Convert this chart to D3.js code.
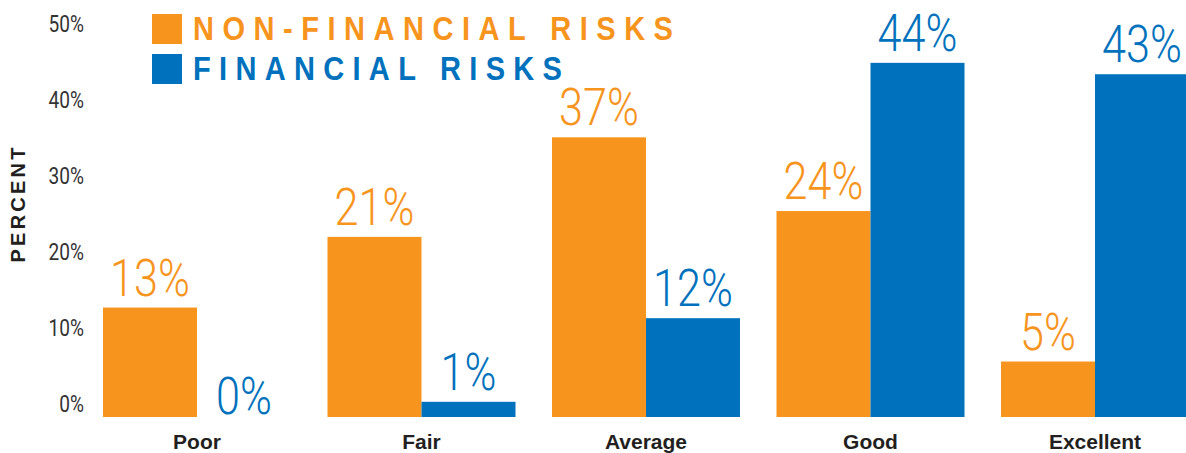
<!DOCTYPE html>
<html>
<head>
<meta charset="utf-8">
<script src="https://cdn.jsdelivr.net/npm/d3@7"></script>
<style>
  html, body { margin: 0; padding: 0; background: #fff; }
  svg { display: block; }
</style>
</head>
<body>
<svg id="chart" width="1186" height="453"></svg>
<script>
const categories = ["Poor", "Fair", "Average", "Good", "Excellent"];
const seriesNames = ["NON-FINANCIAL RISKS", "FINANCIAL RISKS"];
// bar heights as drawn in the picture (percent)
const nonFinancial = [14.4, 23.7, 36.8, 27.1, 7.3];
const financial = [0, 2.0, 13.0, 46.6, 45.1];
// printed value labels
const nonFinancialLabels = ["13%", "21%", "37%", "24%", "5%"];
const financialLabels = ["0%", "1%", "12%", "44%", "43%"];
const yTicks = [0, 10, 20, 30, 40, 50];

const colors = ["#f7941d", "#0071bc"];
const condensed = 0.83;

const svg = d3.select("#chart");

const baseline = 417;
const yScale = d3.scaleLinear().domain([0, 50]).range([baseline, 37]);

const xScale = d3
  .scaleBand()
  .domain(categories)
  .range([84.75, 1207.25])
  .paddingInner(0.1626)
  .paddingOuter(0.0813);

const xSub = d3
  .scaleBand()
  .domain([0, 1])
  .range([0, xScale.bandwidth()]);

// y tick labels (no axis line)
const tickG = svg.append("g");
tickG
  .selectAll("g")
  .data(yTicks)
  .join("g")
  .attr("transform", (d) => `translate(84,${yScale(d) - 13}) scale(${condensed},1)`)
  .append("text")
  .attr("text-anchor", "end")
  .attr("dy", "0.35em")
  .attr("font-family", "Roboto, sans-serif")
  .attr("font-weight", 400)
  .attr("font-size", 23)
  .attr("fill", "#333")
  .text((d) => `${d}%`);

// axis title
svg
  .append("text")
  .attr("transform", "translate(25,205) rotate(-90)")
  .attr("text-anchor", "middle")
  .attr("font-family", "'Liberation Sans', Arial, sans-serif")
  .attr("font-weight", 700)
  .attr("font-size", 20)
  .attr("fill", "#231f20")
  .attr("textLength", 115)
  .attr("lengthAdjust", "spacing")
  .text("PERCENT");

const rows = categories.map((c, i) => ({
  category: c,
  values: [
    { series: 0, value: nonFinancial[i], label: nonFinancialLabels[i] },
    { series: 1, value: financial[i], label: financialLabels[i] },
  ],
}));

const groups = svg
  .selectAll("g.group")
  .data(rows)
  .join("g")
  .attr("class", "group")
  .attr("transform", (d) => `translate(${xScale(d.category)},0)`);

groups
  .selectAll("rect")
  .data((d) => d.values)
  .join("rect")
  .attr("x", (d) => xSub(d.series))
  .attr("width", xSub.bandwidth())
  .attr("y", (d) => yScale(d.value))
  .attr("height", (d) => baseline - yScale(d.value))
  .attr("fill", (d) => colors[d.series]);

groups
  .selectAll("g.val")
  .data((d) => d.values)
  .join("g")
  .attr("class", "val")
  .attr(
    "transform",
    (d) =>
      `translate(${xSub(d.series) + xSub.bandwidth() / 2},${
        d.value > 0 ? yScale(d.value) - 12 : baseline - 3
      }) scale(${condensed},1)`,
  )
  .append("text")
  .attr("text-anchor", "middle")
  .attr("font-family", "Roboto, sans-serif")
  .attr("font-weight", 300)
  .attr("font-size", 52)
  .attr("fill", (d) => colors[d.series])
  .text((d) => d.label);

groups
  .append("text")
  .attr("x", xScale.bandwidth() / 2)
  .attr("y", 449)
  .attr("text-anchor", "middle")
  .attr("font-family", "'Liberation Sans', Arial, sans-serif")
  .attr("font-weight", 700)
  .attr("font-size", 21)
  .attr("fill", "#231f20")
  .text((d) => d.category);

// legend
const legendWidths = [480, 369];
const legendStretch = 0.88;
const legend = svg
  .selectAll("g.legend")
  .data(seriesNames)
  .join("g")
  .attr("class", "legend")
  .attr("transform", (d, i) => `translate(152,${14 + i * 40})`);

legend
  .append("rect")
  .attr("width", 30)
  .attr("height", 30)
  .attr("fill", (d, i) => colors[i]);

legend
  .append("g")
  .attr("transform", `translate(41,25.5) scale(${legendStretch},1)`)
  .append("text")
  .attr("font-family", "'Liberation Sans', Arial, sans-serif")
  .attr("font-weight", 700)
  .attr("font-size", 33)
  .attr("fill", (d, i) => colors[i])
  .attr("textLength", (d, i) => legendWidths[i] / legendStretch)
  .attr("lengthAdjust", "spacing")
  .text((d) => d);
</script>
</body>
</html>
